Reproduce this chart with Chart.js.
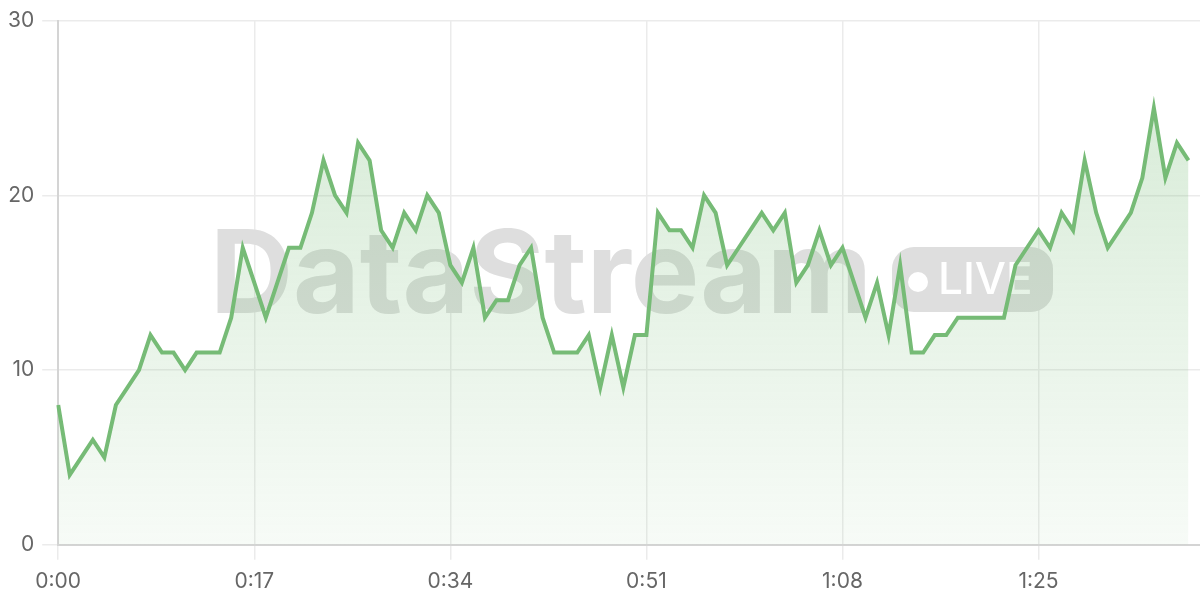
<!DOCTYPE html>
<html>
<head>
<meta charset="utf-8">
<title>DataStream live</title>
<script src="https://cdn.jsdelivr.net/npm/chart.js@4/dist/chart.umd.min.js"></script>
<style>
  html, body { margin: 0; padding: 0; background: #fff; }
  #wrap { width: 1200px; height: 600px; position: relative; }
</style>
</head>
<body>
<div id="wrap"><canvas id="chart"></canvas></div>
<script>
/* ── Data ── */
// one label per second, the last slot has no reading yet
const timeLabels = [
  '0:00','0:01','0:02','0:03','0:04','0:05','0:06','0:07','0:08','0:09',
  '0:10','0:11','0:12','0:13','0:14','0:15','0:16','0:17','0:18','0:19',
  '0:20','0:21','0:22','0:23','0:24','0:25','0:26','0:27','0:28','0:29',
  '0:30','0:31','0:32','0:33','0:34','0:35','0:36','0:37','0:38','0:39',
  '0:40','0:41','0:42','0:43','0:44','0:45','0:46','0:47','0:48','0:49',
  '0:50','0:51','0:52','0:53','0:54','0:55','0:56','0:57','0:58','0:59',
  '1:00','1:01','1:02','1:03','1:04','1:05','1:06','1:07','1:08','1:09',
  '1:10','1:11','1:12','1:13','1:14','1:15','1:16','1:17','1:18','1:19',
  '1:20','1:21','1:22','1:23','1:24','1:25','1:26','1:27','1:28','1:29',
  '1:30','1:31','1:32','1:33','1:34','1:35','1:36','1:37','1:38','1:39'
];
const streamValues = [
  8, 4, 5, 6, 5, 8, 9, 10, 12, 11,
  11, 10, 11, 11, 11, 13, 17, 15, 13, 15,
  17, 17, 19, 22, 20, 19, 23, 22, 18, 17,
  19, 18, 20, 19, 16, 15, 17, 13, 14, 14,
  16, 17, 13, 11, 11, 11, 12, 9, 12, 9,
  12, 12, 19, 18, 18, 17, 20, 19, 16, 17,
  18, 19, 18, 19, 15, 16, 18, 16, 17, 15,
  13, 15, 12, 16, 11, 11, 12, 12, 13, 13,
  13, 13, 13, 16, 17, 18, 17, 19, 18, 22,
  19, 17, 18, 19, 21, 25, 21, 23, 22
];
const shownTicks = ['0:00','0:17','0:34','0:51','1:08','1:25'];
const yTicks = [0, 10, 20, 30];

const GREEN = '#76BB76';
const FONT = 'Inter, "Noto Sans", sans-serif';

/* ── Watermark (drawn under the line) ── */
const watermark = {
  id: 'watermark',
  beforeDatasetsDraw(chart) {
    const c = chart.ctx;
    c.save();
    c.fillStyle = '#dedede';
    c.font = `700 115px ${FONT}`;
    c.textBaseline = 'alphabetic';
    c.fillText('DataStream', 210, 313);
    // LIVE badge
    c.beginPath();
    c.roundRect(892, 247, 161, 65, 22);
    c.fill();
    c.fillStyle = '#fff';
    c.beginPath(); c.arc(918, 282, 10, 0, Math.PI * 2); c.fill();
    c.font = `500 44px ${FONT}`;
    c.fillText('LIVE', 938, 294);
    c.restore();
  }
};

/* ── Chart ── */
const ctx = document.getElementById('chart');
new Chart(ctx, {
  type: 'line',
  data: {
    labels: timeLabels,
    datasets: [{
      data: streamValues,
      borderColor: GREEN,
      borderWidth: 4,
      pointRadius: 0,
      tension: 0,
      fill: 'origin',
      backgroundColor: (c) => {
        const a = c.chart.chartArea;
        if (!a) return 'rgba(118,187,118,0.15)';
        const g = c.chart.ctx.createLinearGradient(0, a.top, 0, a.bottom);
        g.addColorStop(0, 'rgba(118,187,118,0.32)');
        g.addColorStop(1, 'rgba(118,187,118,0.06)');
        return g;
      }
    }]
  },
  options: {
    responsive: true,
    maintainAspectRatio: false,
    animation: false,
    layout: { padding: { top: 8, right: 0, bottom: -3, left: 0 } },
    plugins: { legend: { display: false }, tooltip: { enabled: false } },
    scales: {
      x: {
        afterBuildTicks: (s) => { s.ticks = s.ticks.filter(t => shownTicks.includes(timeLabels[t.value])); },
        ticks: { autoSkip: false, maxRotation: 0, color: '#666', padding: 9, font: { family: FONT, size: 21 } },
        grid: { color: '#ebebeb', lineWidth: 1.5, tickLength: 15 },
        border: { color: '#d4d4d4', width: 2 }
      },
      y: {
        min: 0, max: 30,
        afterBuildTicks: (s) => { s.ticks = yTicks.map(v => ({ value: v })); },
        ticks: { color: '#666', padding: 8, font: { family: FONT, size: 21 } },
        grid: { color: '#ebebeb', lineWidth: 1.5, tickLength: 16 },
        border: { color: '#d4d4d4', width: 2 }
      }
    }
  },
  plugins: [watermark]
});
</script>
</body>
</html>
